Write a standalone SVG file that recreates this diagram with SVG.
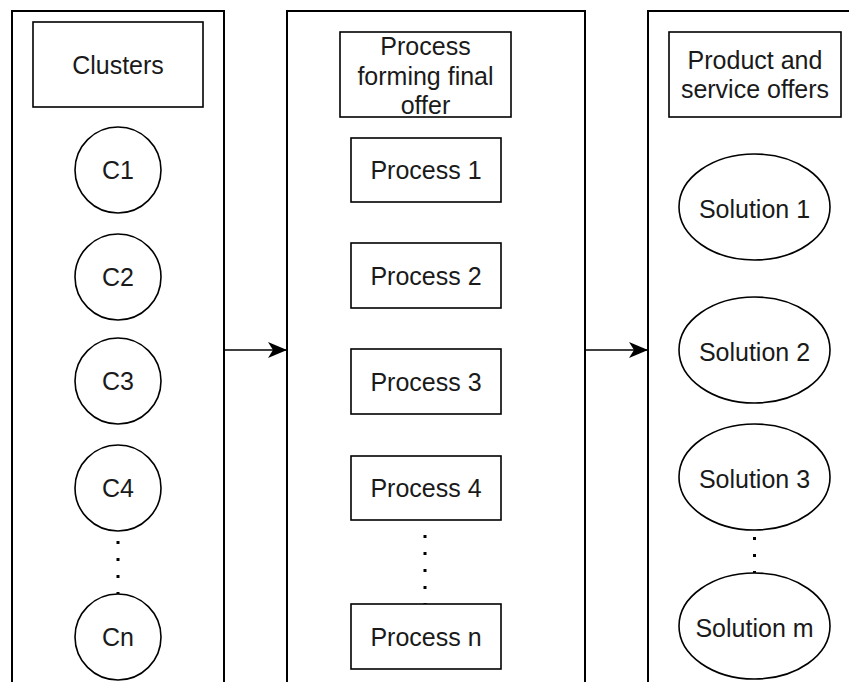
<svg xmlns="http://www.w3.org/2000/svg" width="849" height="682" viewBox="0 0 849 682">
<style>
.col{fill:#fff;stroke:#000;stroke-width:2}
.n{fill:#fff;stroke:#000;stroke-width:1.6}
.t{font-family:"Liberation Sans",Arial,sans-serif;font-size:25px;fill:#1a1a1a;text-anchor:middle;dominant-baseline:central}
.dots{stroke:#000;stroke-width:3;stroke-dasharray:3 14;fill:none}
.arr{stroke:#000;stroke-width:1.6;fill:none}
</style>
<defs>
<marker id="ah" markerWidth="20" markerHeight="16" refX="19" refY="8" orient="auto" markerUnits="userSpaceOnUse">
<path d="M0,0 L19,8 L0,16 L5,8 Z" fill="#000"/>
</marker>
</defs>
<g id="col-clusters"><rect class="col" x="12" y="11" width="212" height="700"/></g>
<g id="col-process"><rect class="col" x="287" y="11" width="298" height="700"/></g>
<g id="col-offers"><rect class="col" x="648" y="11" width="220" height="700"/></g>

<g id="connectors">
<line class="arr" x1="224" y1="350" x2="287" y2="350" marker-end="url(#ah)"/>
<line class="arr" x1="585" y1="350" x2="648" y2="350" marker-end="url(#ah)"/>
<line class="dots" x1="118" y1="541" x2="118" y2="594"/>
<line class="dots" x1="425" y1="535" x2="425" y2="604"/>
<line class="dots" x1="754.5" y1="537" x2="754.5" y2="573"/>
</g>

<g id="clusters"><rect class="n" x="33" y="22" width="170" height="85"/><text class="t" x="118" y="65">Clusters</text></g>
<g id="c1"><circle class="n" cx="118" cy="170" r="43"/><text class="t" x="118" y="170">C1</text></g>
<g id="c2"><circle class="n" cx="118" cy="277" r="43"/><text class="t" x="118" y="277">C2</text></g>
<g id="c3"><circle class="n" cx="118" cy="381" r="43"/><text class="t" x="118" y="381">C3</text></g>
<g id="c4"><circle class="n" cx="118" cy="488" r="43"/><text class="t" x="118" y="488">C4</text></g>
<g id="cn"><circle class="n" cx="118" cy="637" r="43"/><text class="t" x="118" y="637">Cn</text></g>

<g id="process-header"><rect class="n" x="340" y="32" width="171" height="85"/>
<text class="t" x="425.5" y="46">Process</text>
<text class="t" x="425.5" y="76">forming final</text>
<text class="t" x="425.5" y="105">offer</text></g>
<g id="p1"><rect class="n" x="351" y="138" width="150" height="64"/><text class="t" x="426" y="170">Process 1</text></g>
<g id="p2"><rect class="n" x="351" y="243" width="150" height="65"/><text class="t" x="426" y="275.5">Process 2</text></g>
<g id="p3"><rect class="n" x="351" y="349" width="150" height="65"/><text class="t" x="426" y="381.5">Process 3</text></g>
<g id="p4"><rect class="n" x="351" y="456" width="150" height="64"/><text class="t" x="426" y="488">Process 4</text></g>
<g id="pn"><rect class="n" x="351" y="604" width="150" height="65"/><text class="t" x="426" y="636.5">Process n</text></g>

<g id="offers-header"><rect class="n" x="669" y="32" width="172" height="85"/>
<text class="t" x="755" y="60">Product and</text>
<text class="t" x="755" y="89">service offers</text></g>
<g id="s1"><ellipse class="n" cx="754.5" cy="207" rx="75.5" ry="53"/><text class="t" x="754.5" y="209">Solution 1</text></g>
<g id="s2"><ellipse class="n" cx="754.5" cy="350" rx="75.5" ry="53"/><text class="t" x="754.5" y="352">Solution 2</text></g>
<g id="s3"><ellipse class="n" cx="754.5" cy="477" rx="75.5" ry="53"/><text class="t" x="754.5" y="479">Solution 3</text></g>
<g id="sm"><ellipse class="n" cx="754.5" cy="626" rx="75.5" ry="53"/><text class="t" x="754.5" y="628">Solution m</text></g>
</svg>
